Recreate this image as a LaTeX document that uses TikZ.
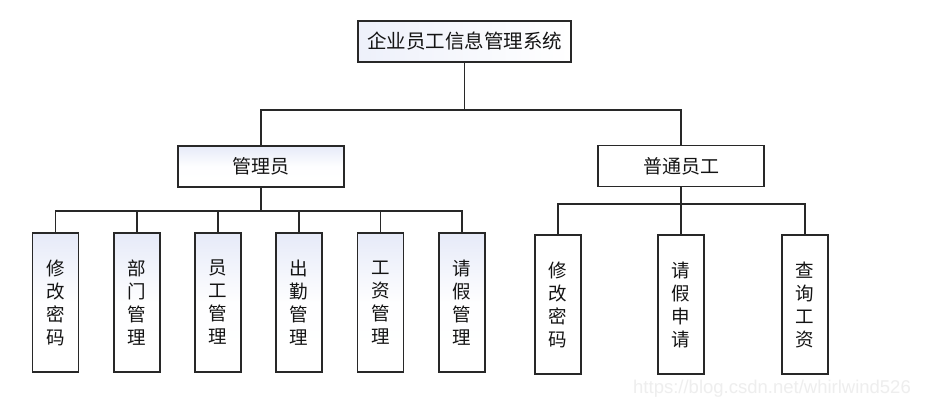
\documentclass[tikz,border=0pt]{standalone}
\usepackage{fontspec}
\newfontfamily\cjk{Noto Sans CJK SC}
\newfontfamily\wmfont{Liberation Sans}
\definecolor{edgec}{RGB}{40,40,40}
\definecolor{txtc}{RGB}{20,20,20}
\definecolor{shadec}{RGB}{230,234,248}
\definecolor{wmc}{RGB}{238,238,238}
\begin{document}
\begin{tikzpicture}[x=1pt,y=-1pt,
  box/.style={draw=edgec,line width=1.4pt,text=txtc,inner sep=0pt,align=center},
  topbox/.style={box,minimum width=213pt,minimum height=41pt,left color=shadec!70,right color=white,font=\cjk\fontsize{19.5}{22}\selectfont},
  midbox/.style={box,minimum width=166pt,minimum height=41pt,font=\cjk\fontsize{19}{20}\selectfont},
  vbox/.style={box,minimum width=46pt,minimum height=139pt,font=\cjk\fontsize{18.5}{23}\selectfont},
  shaded/.style={top color=shadec,bottom color=white,middle color=white!96!shadec},
  link/.style={draw=edgec,line width=1.4pt}]
\useasboundingbox (0,0) rectangle (928,410);
\fill[white] (0,0) rectangle (928,410);

\node[topbox] (top) at (464.5,41.5) {企业员工信息管理系统};
\node[midbox,shaded] (adm) at (261,166.5) {管理员};
\node[midbox,fill=white] (emp) at (681,166) {普通员工};

\node[vbox,shaded] (l1) at (55.5,302.5) {修\\改\\密\\码};
\node[vbox,shaded] (l2) at (137,302.5) {部\\门\\管\\理};
\node[vbox,shaded] (l3) at (218,302.5) {员\\工\\管\\理};
\node[vbox,shaded] (l4) at (299,302.5) {出\\勤\\管\\理};
\node[vbox,shaded] (l5) at (380.5,302.5) {工\\资\\管\\理};
\node[vbox,shaded] (l6) at (462,302.5) {请\\假\\管\\理};

\node[vbox,fill=white] (r1) at (558,304.5) {修\\改\\密\\码};
\node[vbox,fill=white] (r2) at (681,304.5) {请\\假\\申\\请};
\node[vbox,fill=white] (r3) at (805,304.5) {查\\询\\工\\资};

\coordinate (b1) at (0,110);
\coordinate (b2) at (0,211);
\coordinate (b3) at (0,204);

% top level
\draw[link] (top.south) -- (top.south |- b1);
\draw[link] (adm.north) |- (top.south |- b1) -| (emp.north);

% admin children
\draw[link] (adm.south) -- (adm.south |- b2);
\draw[link] (l1.north) |- (l6.north |- b2) -- (l6.north);
\foreach \n in {l2,l3,l4,l5} \draw[link] (\n.north) -- (\n.north |- b2);

% employee children
\draw[link] (emp.south) -- (r2.north);
\draw[link] (r1.north) |- (r3.north |- b3) -- (r3.north);

% watermark
\node[text=wmc,font=\wmfont\fontsize{18.5}{20}\selectfont,inner sep=0pt] (wm) at (772,389) {https://blog.csdn.net/whirlwind526};
\end{tikzpicture}
\end{document}
